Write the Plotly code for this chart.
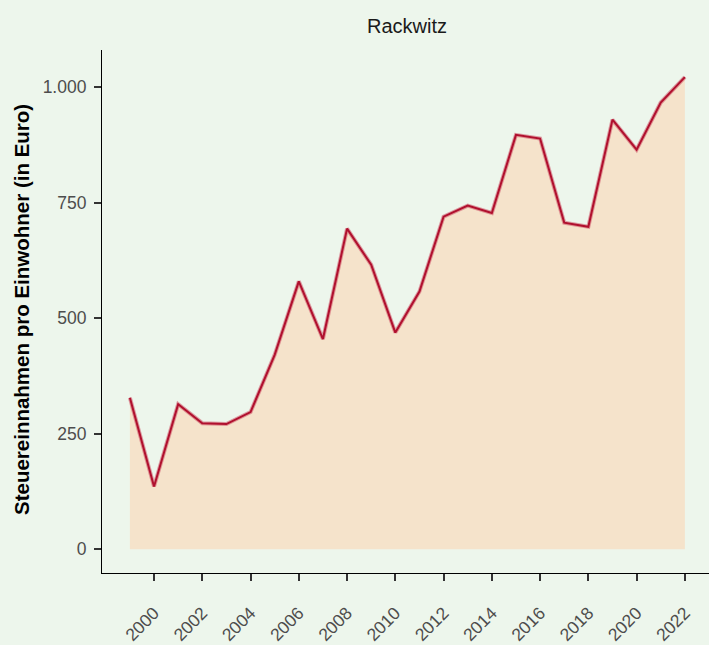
import plotly.graph_objects as go

years = list(range(1999, 2023))
values = [328, 136, 314, 273, 271, 297, 421, 580, 455, 694, 616, 469, 558,
          720, 744, 728, 897, 889, 707, 698, 930, 865, 967, 1022]
x_ticks = list(range(2000, 2023, 2))
y_ticks = [0, 250, 500, 750, 1000]
y_ticktext = ["0", "250", "500", "750", "1.000"]

BG = "#EDF6EC"
FONT = "Liberation Sans, Arial, sans-serif"

fig = go.Figure()
fig.add_trace(go.Scatter(x=years, y=values, mode="lines", fill="tozeroy",
                         fillcolor="#F5E3CB", line=dict(color="rgba(0,0,0,0)", width=0),
                         hoverinfo="skip", showlegend=False))
fig.add_trace(go.Scatter(x=years, y=values, mode="lines",
                         line=dict(color="rgba(205,80,100,0.55)", width=4),
                         showlegend=False))
fig.add_trace(go.Scatter(x=years, y=values, mode="lines",
                         line=dict(color="#B0102E", width=2),
                         showlegend=False))

fig.update_layout(
    width=709, height=645,
    margin=dict(l=102, r=0, t=50, b=72),
    paper_bgcolor=BG, plot_bgcolor=BG,
    font=dict(family=FONT, size=17.5, color="#4D4D4D"),
    xaxis=dict(range=[1997.844, 2023.0], tickvals=x_ticks, ticktext=[str(v) for v in x_ticks],
               tickangle=-45, ticks="outside", ticklen=7, tickwidth=2, tickcolor="#333333",
               showline=True, linecolor="black", linewidth=1.1, showgrid=False, zeroline=False,
               tickfont=dict(family=FONT, size=17.5, color="#4D4D4D"), ticklabelstandoff=15),
    yaxis=dict(range=[-51.3, 1080.7], tickvals=y_ticks, ticktext=y_ticktext,
               ticks="outside", ticklen=7, tickwidth=2, tickcolor="#333333",
               showline=True, linecolor="black", linewidth=1.1, showgrid=False, zeroline=False,
               tickfont=dict(family=FONT, size=17.5, color="#4D4D4D"), ticklabelstandoff=4),
)
fig.add_annotation(text="Rackwitz", x=(407 - 102) / 607, xref="paper",
                   y=(573 - 26) / 523, yref="paper", showarrow=False,
                   xanchor="center", yanchor="middle",
                   font=dict(family=FONT, size=20, color="#1A1A1A"))
fig.add_annotation(text="<b>Steuereinnahmen pro Einwohner (in Euro)</b>",
                   x=(21 - 102) / 607, xref="paper", y=(573 - 310) / 523, yref="paper",
                   showarrow=False, textangle=-90, xanchor="center", yanchor="middle",
                   font=dict(family=FONT, size=20.5, color="#000000"))

fig.write_html("out.html", config={"displayModeBar": False},
               post_script="document.body.style.margin='0';document.body.style.background='%s';" % BG)
